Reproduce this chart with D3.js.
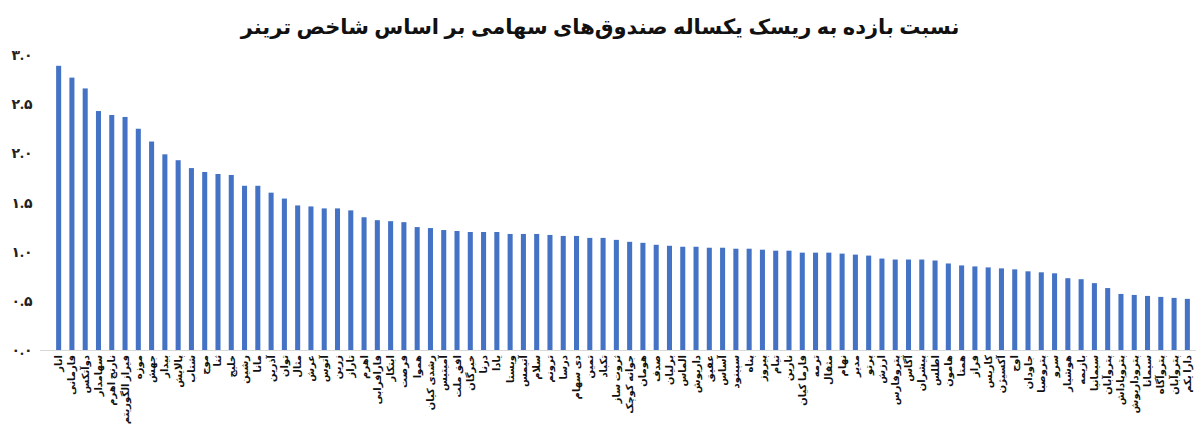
<!DOCTYPE html>
<html><head><meta charset="utf-8">
<script src="https://cdn.jsdelivr.net/npm/d3@7"></script>
<style>body{margin:0;background:#fff}svg{display:block;font-family:"Noto Sans","DejaVu Sans",sans-serif}</style>
</head><body><svg id="c" width="1200" height="425"></svg>
<script>
const title = "نسبت بازده به ریسک یکساله صندوق‌های سهامی بر اساس شاخص ترینر";
const categories = ["انار","فارمانی","دوآتکس","سهامدار","نارنج اهرم","فیراز الگوریتم","موزه","جهش","بیدار","پالایش","شتاب","موج","ثنا","خلیج","رشین","مانا","آذرین","توان","مثال","عرش","آتوس","زرین","تاراز","اهرم","فارافرابی","ابتکار","فرصت","هموا","رشدی کیان","آمیتیس","افق ملت","خبرگان","درنا","یادا","ویستا","آتیمس","سلام","ترونم","درسا","دی سهام","تمین","تکباد","ثروت ساز","جوانه کوچک","هومان","صدف","برلیان","الماس","داریوش","عقیق","آساس","سپینود","پناه","پیروز","تیام","نارین","فارما کیان","ترمه","مثقال","نهام","مدیر","پرتو","ارزش","پتروفارس","آگاس","پیشران","اطلس","هامون","همتا","فراز","کاریس","آکسیژن","اوج","جاودان","پتروصبا","سرو","هوشیار","بازیمه","سیمانیا","پتروآبان","پتروپاداش","پتروداریوش","سیمانا","پتروآگاه","پتروآبان","دارا یکم"];
const values = [2.89,2.77,2.66,2.43,2.39,2.37,2.25,2.12,1.99,1.93,1.85,1.81,1.79,1.78,1.67,1.67,1.60,1.54,1.47,1.46,1.44,1.44,1.42,1.35,1.32,1.31,1.30,1.25,1.24,1.22,1.21,1.20,1.20,1.20,1.18,1.18,1.18,1.17,1.16,1.16,1.14,1.14,1.12,1.10,1.09,1.07,1.06,1.05,1.05,1.04,1.04,1.03,1.03,1.02,1.01,1.01,0.99,0.99,0.99,0.98,0.97,0.96,0.93,0.92,0.92,0.92,0.91,0.88,0.86,0.85,0.84,0.83,0.82,0.80,0.79,0.78,0.73,0.72,0.68,0.63,0.57,0.56,0.55,0.54,0.53,0.52];
const yTicks = [0,0.5,1,1.5,2,2.5,3];
const yTickLabels = ["۰.۰","۰.۵","۱.۰","۱.۵","۲.۰","۲.۵","۳.۰"];

const svg = d3.select("#c");
const x = d3.scaleBand().domain(d3.range(categories.length)).range([52,1194]).paddingInner(0.62).paddingOuter(0.31);
const y = d3.scaleLinear().domain([0,3]).range([350,55]);

svg.append("text").attr("x",600).attr("y",34).attr("text-anchor","middle")
  .attr("font-size",21).attr("font-weight","bold").attr("fill","#111").text(title);

yTicks.forEach((t,i)=>{
  svg.append("text").attr("x",22).attr("y",y(t)+5).attr("text-anchor","middle")
    .attr("font-size",14).attr("font-weight","bold").attr("fill","#222").text(yTickLabels[i]);
});

svg.append("line").attr("x1",40).attr("x2",1196).attr("y1",y(0)+0.5).attr("y2",y(0)+0.5)
  .attr("stroke","#d9d9d9").attr("stroke-width",1);

svg.selectAll("rect.bar").data(values).join("rect").attr("class","bar")
  .attr("x",(d,i)=>x(i)).attr("width",x.bandwidth())
  .attr("y",d=>y(d)).attr("height",d=>y(0)-y(d)).attr("fill","#4472c4");

svg.selectAll("text.cat").data(categories).join("text").attr("class","cat")
  .attr("transform",(d,i)=>`translate(${x(i)+x.bandwidth()/2+3.5},${y(0)+5}) rotate(-90)`)
  .attr("text-anchor","end").attr("font-size",10).attr("font-weight","bold").attr("fill","#111")
  .text(d=>d);
</script></body></html>
